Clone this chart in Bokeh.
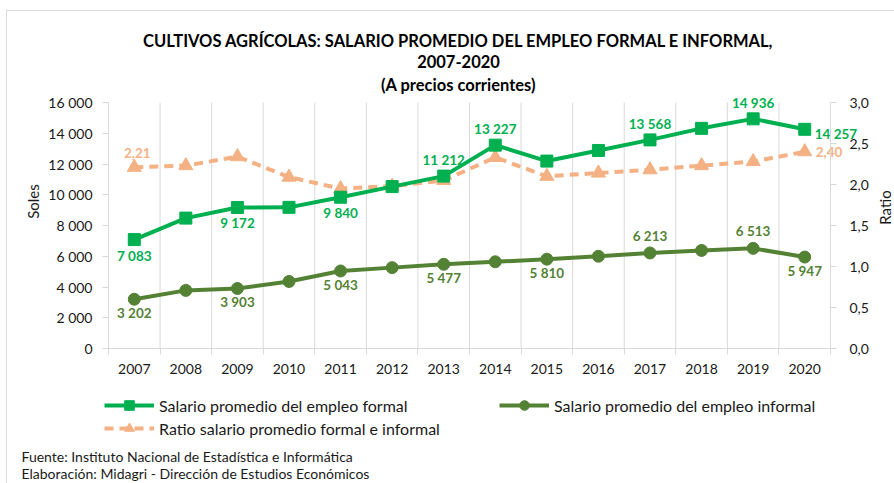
import math
from bokeh.plotting import figure
from bokeh.models import (Range1d, LinearAxis, FixedTicker, CustomJSTickFormatter,
                          Legend, LegendItem, ColumnDataSource, Label)
from bokeh.core.properties import value
from bokeh.embed import file_html
from bokeh.resources import INLINE

# ---------------- data ----------------
years = [2007, 2008, 2009, 2010, 2011, 2012, 2013, 2014, 2015, 2016, 2017, 2018, 2019, 2020]
formal = [7083, 8480, 9172, 9180, 9840, 10530, 11212, 13227, 12190, 12880, 13568, 14320, 14936, 14257]
informal = [3202, 3780, 3903, 4360, 5043, 5260, 5477, 5640, 5810, 6000, 6213, 6380, 6513, 5947]
ratio = [2.21, 2.23, 2.34, 2.09, 1.95, 1.98, 2.05, 2.33, 2.10, 2.14, 2.18, 2.23, 2.28, 2.40]

left_ticks = [0, 2000, 4000, 6000, 8000, 10000, 12000, 14000, 16000]
right_ticks = [0.0, 0.5, 1.0, 1.5, 2.0, 2.5, 3.0]

title_lines = ["CULTIVOS AGRÍCOLAS: SALARIO PROMEDIO DEL EMPLEO FORMAL E INFORMAL,",
               "2007-2020",
               "(A precios corrientes)"]
left_title = "Soles"
right_title = "Ratio"
name_formal = "Salario promedio del empleo formal"
name_informal = "Salario promedio del empleo informal"
name_ratio = "Ratio salario promedio formal e informal"
footer_lines = ["Fuente: Instituto Nacional de Estadística e Informática",
                "Elaboración: Midagri - Dirección de Estudios Económicos"]

# which points carry a data label, and where
formal_labels = {0: "below", 2: "below", 4: "below", 6: "above", 7: "above", 10: "above", 12: "above", 13: "right"}
informal_labels = {0: "below", 2: "below", 4: "below", 6: "below", 8: "below", 10: "above", 12: "above", 13: "below"}
ratio_labels = {0: "above", 13: "right"}

C_FORMAL = "#00B050"
C_INFORMAL = "#548235"
C_RATIO = "#F4B183"
GRID = "#d9d9d9"
TXT = "#1a1a1a"
FONT = "Lato"

def fmt_int(v):
    return f"{v:,}".replace(",", " ")

def fmt_ratio(v):
    return f"{v:.2f}".replace(".", ",")

# ---------------- layout (pixels) ----------------
# The plot frame covers the whole canvas; the axes are pinned to the axis box.
W, H = 894, 483
AX_L, AX_R, AX_T, AX_B = 108, 830, 102, 348
ppy = (AX_R - AX_L) / len(years)
x_start = years[0] - 0.5 - AX_L / ppy
x_end = years[-1] + 0.5 + (W - AX_R) / ppy
upp = left_ticks[-1] / (AX_B - AX_T)
rpp = right_ticks[-1] / (AX_B - AX_T)

p = figure(width=W, height=H, output_backend="svg", toolbar_location=None,
           x_range=Range1d(x_start, x_end),
           y_range=Range1d(-(H - AX_B) * upp, left_ticks[-1] + AX_T * upp),
           min_border=0, min_border_left=0, min_border_right=0, min_border_top=0, min_border_bottom=0)
p.extra_y_ranges = {"ratio": Range1d(-(H - AX_B) * rpp, right_ticks[-1] + AX_T * rpp)}
p.outline_line_color = None
p.background_fill_alpha = 0
p.border_fill_alpha = 0
p.styles = {"background": ("linear-gradient(#d9d9d9, #d9d9d9) 6px 10px / 1px 100% no-repeat, "
                           "linear-gradient(#d9d9d9, #d9d9d9) 6px 10px / 100% 1px no-repeat, #ffffff")}
p.xgrid.visible = False
p.ygrid.visible = False

bounds_x = [y - 0.5 for y in years] + [years[-1] + 0.5]

# vertical grid lines at category boundaries
p.segment(x0=bounds_x, y0=[left_ticks[0]] * len(bounds_x), x1=bounds_x, y1=[left_ticks[-1]] * len(bounds_x),
          line_color=GRID, line_width=1)

# x axis (pinned at y = 0)
xax = p.xaxis[0]
xax.fixed_location = 0
xax.ticker = FixedTicker(ticks=years, minor_ticks=bounds_x)
xax.bounds = (bounds_x[0], bounds_x[-1])
xax.major_tick_line_color = None
xax.major_tick_out = 0
xax.major_tick_in = 0
xax.minor_tick_out = 6
xax.minor_tick_in = 0
xax.minor_tick_line_color = GRID
xax.axis_line_color = GRID
xax.major_label_standoff = 9

# left axis (pinned at the first boundary)
yax = p.yaxis[0]
yax.fixed_location = bounds_x[0]
yax.ticker = FixedTicker(ticks=left_ticks)
yax.bounds = (left_ticks[0], left_ticks[-1])
yax.formatter = CustomJSTickFormatter(code="return tick.toFixed(0).replace(/\\B(?=(\\d{3})+(?!\\d))/g, ' ');")
yax.major_label_standoff = 10

# right axis (pinned at the last boundary)
rax = LinearAxis(y_range_name="ratio", ticker=FixedTicker(ticks=right_ticks),
                 formatter=CustomJSTickFormatter(code="return tick.toFixed(1).replace('.', ',');"))
rax.fixed_location = bounds_x[-1]
rax.bounds = (right_ticks[0], right_ticks[-1])
rax.major_label_standoff = 13
p.add_layout(rax, "right")

for ax in [yax, rax]:
    ax.axis_line_color = GRID
    ax.major_tick_line_color = GRID
    ax.major_tick_out = 6
    ax.major_tick_in = 0
    ax.minor_tick_line_color = None
for ax in [xax, yax, rax]:
    ax.major_label_text_font = FONT
    ax.major_label_text_font_size = "14px"
    ax.major_label_text_color = TXT

# series
src = ColumnDataSource(dict(x=years, formal=formal, informal=informal, ratio=ratio))
l_ratio = p.line("x", "ratio", source=src, y_range_name="ratio", line_color=C_RATIO, line_width=4, line_dash="9 6")
s_ratio = p.scatter("x", "ratio", source=src, y_range_name="ratio", marker="triangle", size=14,
                    fill_color=C_RATIO, line_color=C_RATIO)
l_inf = p.line("x", "informal", source=src, line_color=C_INFORMAL, line_width=4)
s_inf = p.scatter("x", "informal", source=src, marker="circle", size=12, fill_color=C_INFORMAL, line_color=C_INFORMAL)
l_for = p.line("x", "formal", source=src, line_color=C_FORMAL, line_width=4)
s_for = p.scatter("x", "formal", source=src, marker="square", size=12, fill_color=C_FORMAL, line_color=C_FORMAL)

def add_labels(series, spec, color, fmt, offs, yname="default"):
    for pos in ["below", "above", "right"]:
        idx = [i for i, ps in spec.items() if ps == pos]
        if not idx:
            continue
        dx, dy, al = offs[pos]
        s = ColumnDataSource(dict(x=[years[i] for i in idx], y=[series[i] for i in idx],
                                  t=[fmt(series[i]) for i in idx]))
        p.text("x", "y", text="t", source=s, y_range_name=yname, x_offset=dx, y_offset=dy,
               text_align=al, text_baseline="middle", text_color=color,
               text_font=value(FONT), text_font_size="13.5px", text_font_style="bold")

add_labels(formal, formal_labels, C_FORMAL, fmt_int,
           {"below": (0, 16, "center"), "above": (0, -16, "center"), "right": (10, 5, "left")})
add_labels(informal, informal_labels, C_INFORMAL, fmt_int,
           {"below": (0, 14, "center"), "above": (0, -17, "center"), "right": (10, 0, "left")})
add_labels(ratio, ratio_labels, C_RATIO, fmt_ratio,
           {"below": (0, 14, "center"), "above": (3, -14, "center"), "right": (11, 0, "left")},
           yname="ratio")

# screen-positioned texts (x from left, y from bottom of the canvas)
def screen_label(text, x, y, size, bold=False, align="left", angle=0.0, color=TXT):
    p.add_layout(Label(x=x, y=y, x_units="screen", y_units="screen", text=text, angle=angle,
                       text_align=align, text_baseline="middle", text_font=FONT,
                       text_font_size=size, text_font_style="bold" if bold else "normal",
                       text_color=color))

for txt, py in zip(title_lines, [40, 61, 84]):
    screen_label(txt, 458, H - py, "16.5px", bold=True, align="center", color="black")
screen_label(left_title, 32, H - 201, "15px", align="center", angle=math.pi / 2)
screen_label(right_title, 884, H - 207, "15px", align="center", angle=math.pi / 2)
for txt, py in zip(footer_lines, [456, 473]):
    screen_label(txt, 21, H - py, "14px")

# legends
def mk_legend(items, loc, spacing=0):
    return Legend(items=items, location=loc, orientation="horizontal", padding=0, margin=0,
                  spacing=spacing, border_line_color=None, background_fill_alpha=0,
                  glyph_width=50, glyph_height=24, label_standoff=5, label_width=290,
                  label_text_font=FONT, label_text_font_size="16px", label_text_color=TXT)

p.add_layout(mk_legend([LegendItem(label=name_formal, renderers=[l_for, s_for]),
                        LegendItem(label=name_informal, renderers=[l_inf, s_inf])],
                       (104, H - 417), spacing=50))
p.add_layout(mk_legend([LegendItem(label=name_ratio, renderers=[l_ratio, s_ratio])], (104, H - 440)))

open("out.html", "w").write(file_html(p, INLINE))
